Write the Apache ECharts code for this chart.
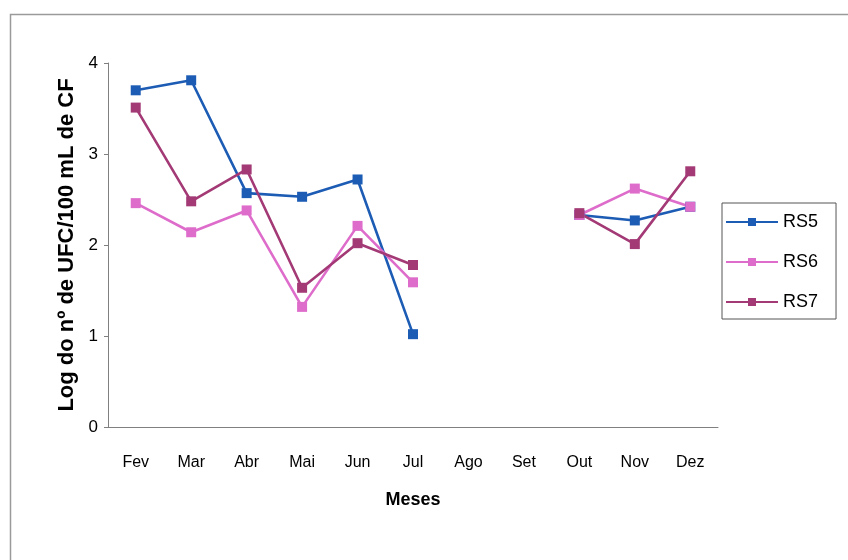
<!DOCTYPE html>
<html>
<head>
<meta charset="utf-8">
<script src="https://cdn.jsdelivr.net/npm/echarts@6/dist/echarts.min.js"></script>
<style>html,body{margin:0;padding:0;background:#fff}#c{width:848px;height:560px}</style>
</head>
<body>
<div id="c"></div>
<script>
var months = ['Fev','Mar','Abr','Mai','Jun','Jul','Ago','Set','Out','Nov','Dez'];
var rs5 = [3.70, 3.81, 2.57, 2.53, 2.72, 1.02, null, null, 2.33, 2.27, 2.42];
var rs6 = [2.46, 2.14, 2.38, 1.32, 2.21, 1.59, null, null, 2.33, 2.62, 2.42];
var rs7 = [3.51, 2.48, 2.83, 1.53, 2.02, 1.78, null, null, 2.35, 2.01, 2.81];
var yTicks = [0, 1, 2, 3, 4];

var font = 'Arial, "Liberation Sans", sans-serif';
var chart = echarts.init(document.getElementById('c'), null, {renderer: 'canvas'});
function ser(name, data, color) {
  return {
    name: name, type: 'line', data: data, connectNulls: false,
    symbol: 'rect', symbolSize: 10,
    lineStyle: {color: color, width: 2.6},
    itemStyle: {color: color},
    emphasis: {disabled: true}, animation: false
  };
}
chart.setOption({
  animation: false,
  textStyle: {fontFamily: font},
  graphic: [{
    type: 'rect', left: 8, top: 12,
    shape: {width: 900, height: 600},
    style: {fill: 'none', stroke: '#9a9a9a', lineWidth: 1.5}, silent: true
  }],
  grid: {left: 108, top: 63, width: 610, height: 364},
  xAxis: {
    type: 'category', data: months, boundaryGap: true,
    name: 'Meses', nameLocation: 'middle', nameGap: 64,
    nameTextStyle: {fontSize: 18, fontWeight: 'bold', color: '#000', fontFamily: font},
    axisLine: {lineStyle: {color: '#808080', width: 1}},
    axisTick: {inside: true, length: 5, alignWithLabel: false, lineStyle: {color: '#808080'}},
    axisLabel: {fontSize: 16, color: '#000', margin: 28, fontFamily: font},
    splitLine: {show: false}
  },
  yAxis: {
    type: 'value', min: yTicks[0], max: yTicks[yTicks.length - 1], interval: 1,
    name: 'Log do nº de UFC/100 mL de CF', nameLocation: 'middle', nameGap: 19,
    nameTextStyle: {fontSize: 22, fontWeight: 'bold', color: '#000', fontFamily: font},
    axisLine: {show: true, lineStyle: {color: '#808080', width: 1}},
    axisTick: {show: true, length: 4, lineStyle: {color: '#808080'}},
    axisLabel: {fontSize: 17, color: '#000', margin: 10, fontFamily: font},
    splitLine: {show: false}
  },
  legend: {
    orient: 'vertical', left: 722, top: 203,
    backgroundColor: '#fff', borderColor: '#555', borderWidth: 1,
    padding: [10, 18, 8, 3], itemGap: 22, itemWidth: 52, itemHeight: 10,
    textStyle: {fontSize: 18, color: '#000', fontFamily: font},
    data: ['RS5', 'RS6', 'RS7']
  },
  series: [
    ser('RS5', rs5, '#1d5cb4'),
    ser('RS6', rs6, '#de6ccb'),
    ser('RS7', rs7, '#a33a76')
  ]
});
</script>
</body>
</html>
